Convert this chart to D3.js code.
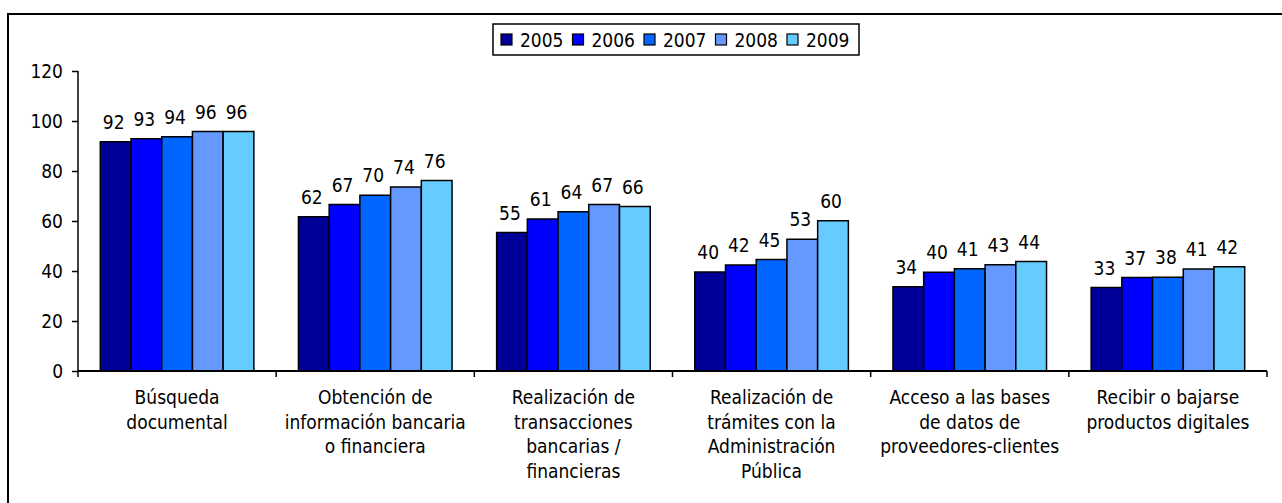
<!DOCTYPE html>
<html>
<head>
<meta charset="utf-8">
<script src="https://cdn.jsdelivr.net/npm/d3@7"></script>
<style>
  html, body { margin: 0; padding: 0; background: #fff; }
  svg { display: block; }
  text { font-family: "DejaVu Sans Condensed", "DejaVu Sans", sans-serif; font-stretch: condensed; fill: #000; }
</style>
</head>
<body>
<svg id="chart" width="1282" height="503"></svg>
<script>
const categories = [
  ["Búsqueda", "documental"],
  ["Obtención de", "información bancaria", "o financiera"],
  ["Realización de", "transacciones", "bancarias /", "financieras"],
  ["Realización de", "trámites con la", "Administración", "Pública"],
  ["Acceso a las bases", "de datos de", "proveedores-clientes"],
  ["Recibir o bajarse", "productos digitales"]
];
const years = ["2005", "2006", "2007", "2008", "2009"];
const colors = ["#000099", "#0000FF", "#0066FF", "#6699FF", "#66CCFF"];
const v2005 = [91.7, 61.7, 55.4, 39.6, 33.7, 33.4];
const v2006 = [92.9, 66.6, 60.8, 42.4, 39.5, 37.4];
const v2007 = [93.7, 70.3, 63.7, 44.6, 40.9, 37.5];
const v2008 = [95.8, 73.6, 66.6, 52.7, 42.5, 40.8];
const v2009 = [95.8, 76.2, 65.8, 60.1, 43.8, 41.7];
const yTicks = [0, 20, 40, 60, 80, 100, 120];

const series = [v2005, v2006, v2007, v2008, v2009];
const svg = d3.select("#chart");
const FS = 19;

// outer frame
svg.append("rect").attr("x", 8).attr("y", 14).attr("width", 1290).attr("height", 510)
  .attr("fill", "none").attr("stroke", "#000").attr("stroke-width", 2);

const pLeft = 78, pRight = 1267, pTop = 71, pBottom = 371;
const catIdx = categories.map((d, i) => i);
const x0 = d3.scaleBand().domain(catIdx).range([pLeft, pRight]).paddingInner(0.225).paddingOuter(0.1125);
const x1 = d3.scaleBand().domain(years).range([0, x0.bandwidth()]);
const y = d3.scaleLinear().domain([0, 120]).range([pBottom, pTop]);

// bars
const groups = svg.append("g").selectAll("g").data(catIdx).join("g")
  .attr("transform", i => `translate(${x0(i)},0)`);
groups.selectAll("rect").data(i => years.map((yr, k) => ({yr, k, v: series[k][i]})))
  .join("rect")
  .attr("x", d => x1(d.yr)).attr("y", d => y(d.v))
  .attr("width", x1.bandwidth()).attr("height", d => y(0) - y(d.v))
  .attr("fill", d => colors[d.k]).attr("stroke", "#000").attr("stroke-width", 1.5);
groups.selectAll("text").data(i => years.map((yr, k) => ({yr, k, v: series[k][i]})))
  .join("text")
  .attr("x", d => x1(d.yr) + x1.bandwidth() / 2 - 2).attr("y", d => y(d.v) - 13)
  .attr("text-anchor", "middle").attr("font-size", FS)
  .text(d => d3.format(".0f")(d.v));

// y axis
const yAxis = svg.append("g").attr("transform", `translate(${pLeft},0)`)
  .call(d3.axisLeft(y).tickValues(yTicks).tickSize(6).tickPadding(9).tickFormat(d3.format("d")));
yAxis.attr("font-family", null).attr("font-size", null);
yAxis.selectAll("text").attr("font-size", FS);
yAxis.selectAll("path,line").attr("stroke", "#000").attr("stroke-width", 1.5);
yAxis.select(".domain").attr("d", `M0,${pTop}V${pBottom}`);

// x axis
const step = (pRight - pLeft) / categories.length;
const xAxis = svg.append("g").attr("transform", `translate(0,${pBottom})`);
xAxis.append("line").attr("x1", pLeft).attr("x2", pRight).attr("stroke", "#000").attr("stroke-width", 2);
const tickXs = d3.range(categories.length + 1).map(i => pLeft + i * step);
xAxis.selectAll("line.tk").data(tickXs).join("line").attr("class", "tk")
  .attr("x1", d => d).attr("x2", d => d).attr("y1", 0).attr("y2", 6)
  .attr("stroke", "#000").attr("stroke-width", 1.5);
const labels = xAxis.selectAll("text.cat").data(catIdx).join("text").attr("class", "cat")
  .attr("x", i => x0(i) + x0.bandwidth() / 2)
  .attr("y", 33).attr("text-anchor", "middle").attr("font-size", FS);
labels.selectAll("tspan").data(i => categories[i]).join("tspan")
  .attr("x", function() { return d3.select(this.parentNode).attr("x"); })
  .attr("dy", (d, j) => j === 0 ? 0 : 24.7)
  .text(d => d);

// legend
const lg = svg.append("g");
lg.append("rect").attr("x", 493).attr("y", 24).attr("width", 366).attr("height", 31)
  .attr("fill", "#fff").attr("stroke", "#000").attr("stroke-width", 1.5);
const items = lg.selectAll("g").data(years).join("g")
  .attr("transform", (d, i) => `translate(${501 + i * 71.5},0)`);
items.append("rect").attr("x", 0).attr("y", 34).attr("width", 11).attr("height", 11)
  .attr("fill", (d, i) => colors[i]).attr("stroke", "#000").attr("stroke-width", 1.2);
items.append("text").attr("x", 19).attr("y", 46.5).attr("font-size", FS).text(d => d);
</script>
</body>
</html>
